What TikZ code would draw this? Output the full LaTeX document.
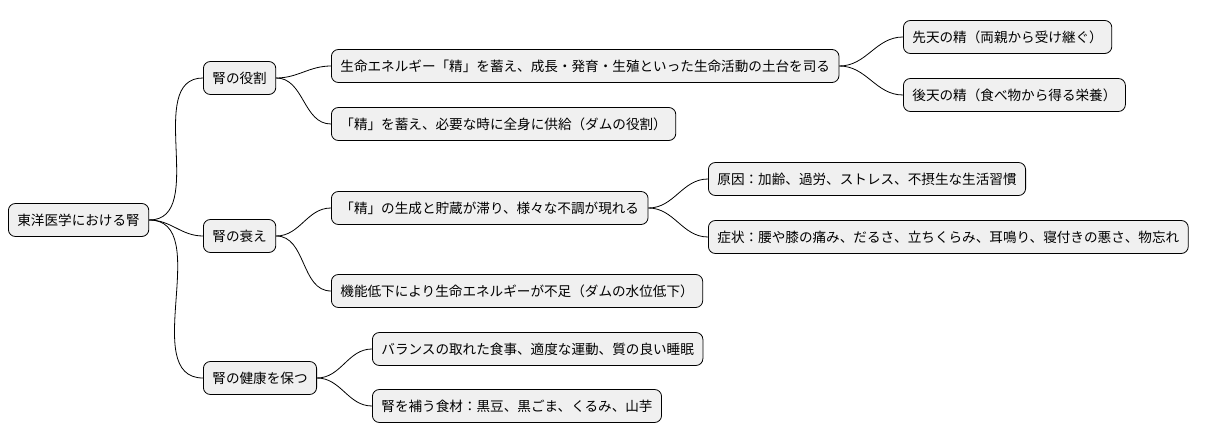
\documentclass[tikz,border=0pt]{standalone}
\usepackage{fontspec}
\setmainfont{Noto Sans CJK JP}
\begin{document}
\begin{tikzpicture}[x=1pt,y=-1pt,
  box/.style={draw=black,fill=black!6,rounded corners=7pt,line width=0.8pt,
    minimum height=33pt,inner xsep=9pt,anchor=west,font=\fontsize{13.6}{15}\selectfont},
  conn/.style={draw=black,line width=0.8pt}]
\useasboundingbox (0,0) rectangle (1216,443);
\node[box] (r) at (8,220) {東洋医学における腎};
\node[box] (a) at (203,78) {腎の役割};
\node[box] (a1) at (331,66) {生命エネルギー「精」を蓄え、成長・発育・生殖といった生命活動の土台を司る};
\node[box] (a11) at (903,37) {先天の精（両親から受け継ぐ）};
\node[box] (a12) at (903,95) {後天の精（食べ物から得る栄養）};
\node[box] (a2) at (331,124) {「精」を蓄え、必要な時に全身に供給（ダムの役割）};
\node[box] (b) at (203,236) {腎の衰え};
\node[box] (b1) at (331,208) {「精」の生成と貯蔵が滞り、様々な不調が現れる};
\node[box] (b11) at (708,179) {原因：加齢、過労、ストレス、不摂生な生活習慣};
\node[box] (b12) at (708,237) {症状：腰や膝の痛み、だるさ、立ちくらみ、耳鳴り、寝付きの悪さ、物忘れ};
\node[box] (b2) at (331,291) {機能低下により生命エネルギーが不足（ダムの水位低下）};
\node[box] (c) at (203,378) {腎の健康を保つ};
\node[box] (c1) at (372,349) {バランスの取れた食事、適度な運動、質の良い睡眠};
\node[box] (c2) at (372,406) {腎を補う食材：黒豆、黒ごま、くるみ、山芋};
\foreach \p/\c in {r/a,r/b,r/c,a/a1,a/a2,a1/a11,a1/a12,b/b1,b/b2,b1/b11,b1/b12,c/c1,c/c2}
  \draw[conn] (\p.east) to[out=0,in=180] (\c.west);
\end{tikzpicture}
\end{document}
